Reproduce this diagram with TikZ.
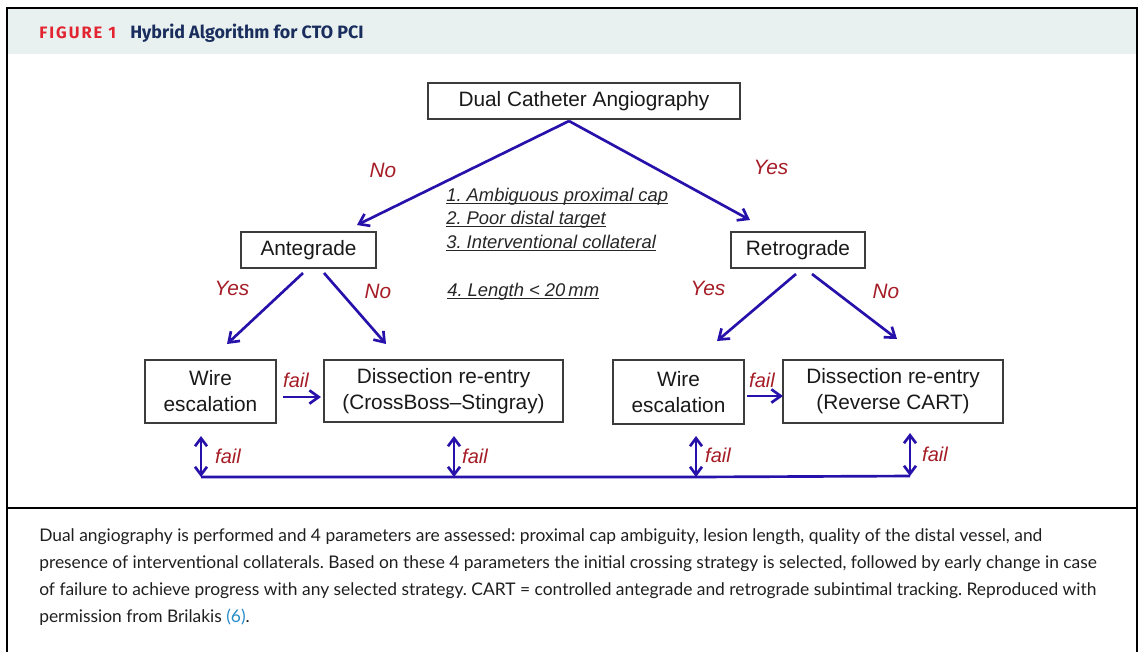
\documentclass[tikz,border=0pt]{standalone}
\usepackage{fontspec}
\setmainfont{Liberation Sans}
\newfontfamily\capfont{Lato}
\newfontfamily\headfont{Fira Sans}
\usetikzlibrary{arrows.meta}
\frenchspacing
\definecolor{arrowblue}{RGB}{38,18,170}
\definecolor{lblred}{RGB}{165,28,38}
\definecolor{headbg}{RGB}{233,241,240}
\definecolor{figred}{RGB}{226,36,48}
\definecolor{navy}{RGB}{26,46,94}
\definecolor{linkblue}{RGB}{40,140,200}
\definecolor{boxgray}{RGB}{60,60,60}
\tikzset{
  box/.style={draw=boxgray, line width=1.1pt, fill=white, inner sep=0pt, align=center,
    font=\fontsize{15.6}{19.5}\selectfont, text=black!90},
  arr/.style={draw=arrowblue, line width=2pt, -{Straight Barb[length=7pt,width=10pt,line width=2pt]}},
  darr/.style={draw=arrowblue, line width=2pt, {Straight Barb[length=6pt,width=9pt,line width=2pt]}-{Straight Barb[length=6pt,width=9pt,line width=2pt]}},
  hline/.style={draw=arrowblue, line width=2pt},
  lbl/.style={text=lblred, font=\fontsize{15.6}{18}\selectfont\itshape, inner sep=0pt},
  faillbl/.style={text=lblred, font=\fontsize{15}{18}\selectfont\itshape, inner sep=0pt},
  lst/.style={anchor=west, inner sep=0pt, text=black!85, font=\fontsize{13.8}{16}\selectfont\itshape},
  capline/.style={anchor=west, inner sep=0pt, text=black!88, font=\capfont\fontsize{13.05}{15}\selectfont}
}
\newcommand{\ul}[1]{\underline{\smash{#1}}}
\begin{document}
\begin{tikzpicture}[x=0.75pt,y=-0.75pt]
\useasboundingbox (0,0) rectangle (1142,651);
% frame and header
\fill[headbg] (7,8) rectangle (1137,54);
\draw[black, line width=1.5pt] (7,660) -- (7,8) -- (1137,8) -- (1137,660);
\draw[black, line width=1.5pt] (7,508) -- (1137,508);
\node[anchor=west, inner sep=0pt, text=figred, font=\headfont\bfseries\fontsize{12.4}{14}\selectfont\addfontfeatures{LetterSpace=12}] (figlbl) at (39,33) {FIGURE 1};
\node[anchor=west, inner sep=0pt, text=navy, font=\headfont\bfseries\fontsize{13.4}{15}\selectfont] (figtitle) at (130,33) {Hybrid Algorithm for CTO PCI};
% boxes
\node[box, minimum width=234pt, minimum height=27pt] (dca) at (584,101) {Dual Catheter Angiography};
\node[box, minimum width=101.25pt, minimum height=27pt] (ante) at (308.5,250) {Antegrade};
\node[box, minimum width=100.5pt, minimum height=27pt] (retro) at (798,250) {Retrograde};
\node[box, minimum width=98.25pt, minimum height=47.25pt] (we1) at (210.5,391.5) {Wire\\escalation};
\node[box, minimum width=179.25pt, minimum height=46.5pt] (dr1) at (443.5,391) {Dissection re-entry\\(CrossBoss--Stingray)};
\node[box, minimum width=98.25pt, minimum height=48pt] (we2) at (678.5,392) {Wire\\escalation};
\node[box, minimum width=165pt, minimum height=47.25pt] (dr2) at (893,391.5) {Dissection re-entry\\(Reverse CART)};
% coordinates
\coordinate (apex) at (569,121);
\coordinate (ea) at (357,225);
\coordinate (er) at (750,220);
\coordinate (as1) at (303,273);
\coordinate (ae1) at (227,344);
\coordinate (as2) at (324,273);
\coordinate (ae2) at (386,344);
\coordinate (rs1) at (796,274);
\coordinate (re1) at (717,341);
\coordinate (rs2) at (812,274);
\coordinate (re2) at (897,339);
\coordinate (f1s) at (283,397);
\coordinate (f1e) at (321,397);
\coordinate (f2s) at (747,396);
\coordinate (f2e) at (783,396);
\coordinate (v1t) at (201,436);
\coordinate (v1b) at (201,477);
\coordinate (v2t) at (454,436);
\coordinate (v2b) at (454,477);
\coordinate (v3t) at (696,436);
\coordinate (v3b) at (696,477);
\coordinate (v4t) at (910,433);
\coordinate (v4b) at (910,476);
% arrows
\draw[arr] (apex) -- (ea);
\draw[arr] (apex) -- (er);
\draw[arr] (as1) -- (ae1);
\draw[arr] (as2) -- (ae2);
\draw[arr] (rs1) -- (re1);
\draw[arr] (rs2) -- (re2);
\draw[arr] (f1s) -- (f1e);
\draw[arr] (f2s) -- (f2e);
\draw[hline] (v1b) -- (v2b) -- (v3b) -- (v4b);
\draw[darr] (v1t) -- (v1b);
\draw[darr] (v2t) -- (v2b);
\draw[darr] (v3t) -- (v3b);
\draw[darr] (v4t) -- (v4b);
% labels
\node[lbl] (l1) at (383,170) {No};
\node[lbl] (l2) at (771,167) {Yes};
\node[lbl] (l3) at (232,288) {Yes};
\node[lbl] (l4) at (378,291) {No};
\node[lbl] (l5) at (708,288) {Yes};
\node[lbl] (l6) at (886,291) {No};
\node[faillbl] (fl1) at (296,380) {fail};
\node[faillbl] (fl2) at (762,380) {fail};
\node[faillbl] (fl3) at (228,456) {fail};
\node[faillbl] (fl4) at (475,456) {fail};
\node[faillbl] (fl5) at (718,455) {fail};
\node[faillbl] (fl6) at (935,454) {fail};
% list
\node[lst] (c1) at (446,203) {\ul{1. Ambiguous proximal cap}};
\node[lst] (c2) at (446,226) {\ul{2. Poor distal target}};
\node[lst] (c3) at (446,250) {\ul{3. Interventional collateral}};
\node[lst] (c4) at (447,298) {\ul{4. Length < 20\,mm}};
% caption
\node[capline] (cap1) at (39,537) {Dual angiography is performed and 4 parameters are assessed: proximal cap ambiguity, lesion length, quality of the distal vessel, and};
\node[capline] (cap2) at (39,564) {presence of interventional collaterals. Based on these 4 parameters the initial crossing strategy is selected, followed by early change in case};
\node[capline] (cap3) at (39,591) {of failure to achieve progress with any selected strategy. CART = controlled antegrade and retrograde subintimal tracking. Reproduced with};
\node[capline] (cap4) at (39,617) {permission from Brilakis \textcolor{linkblue}{(6)}.};
\end{tikzpicture}
\end{document}
